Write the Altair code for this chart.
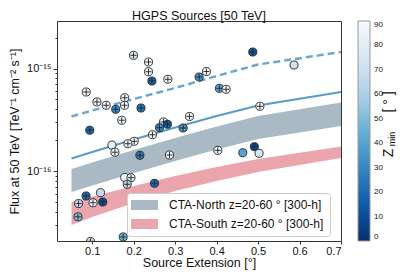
import altair as alt
import pandas as pd

FONT = "Liberation Sans"

# ---------------- data ----------------
src_ext = [0.1995, 0.2357, 0.2357, 0.2439, 0.2824, 0.0855, 0.1113, 0.1337, 0.1566, 0.1783,
           0.1778, 0.2176, 0.1711, 0.0940, 0.2718, 0.2814, 0.2622, 0.3345, 0.3193, 0.3578,
           0.3754, 0.4872, 0.5867, 0.4067, 0.4229, 0.5043, 0.2453, 0.2012, 0.1475, 0.1547,
           0.1860, 0.2149, 0.2863, 0.1783, 0.1935, 0.1843, 0.2501, 0.0851, 0.1200, 0.0670,
           0.1019, 0.1253, 0.0655, 0.0959, 0.1747, 0.4029, 0.4631, 0.4911, 0.5024, 0.4108]
src_flux = [1.345e-15, 1.157e-15, 9.31e-16, 7.56e-16, 7.86e-16, 5.91e-16, 4.73e-16, 4.39e-16, 4.01e-16, 5.20e-16,
            4.39e-16, 4.13e-16, 3.14e-16, 2.51e-16, 3.02e-16, 2.87e-16, 2.66e-16, 3.42e-16, 2.64e-16, 8.27e-16,
            9.36e-16, 1.448e-15, 1.082e-15, 6.42e-16, 6.28e-16, 4.29e-16, 2.27e-16, 1.96e-16, 1.80e-16, 1.535e-16,
            1.857e-16, 1.432e-16, 1.442e-16, 8.71e-17, 8.67e-17, 7.48e-17, 7.65e-17, 5.76e-17, 6.20e-17, 4.86e-17,
            4.95e-17, 5.03e-17, 3.61e-17, 2.08e-17, 2.30e-17, 1.60e-16, 1.518e-16, 1.736e-16, 1.498e-16, 2.83e-17]
src_zmin = [75, 86, 86, 18, 86, 86, 86, 86, 30, 86,
            86, 25, 86, 20, 84, 15, 30, 86, 35, 35,
            86, 15, 72, 40, 86, 84, 84, 86, 84, 86,
            86, 25, 86, 86, 80, 65, 20, 20, 68, 65,
            86, 10, 50, 65, 45, 86, 40, 10, 75, 75]
src_plus = [1, 1, 1, 1, 1, 1, 1, 1, 1, 1,
            1, 1, 1, 1, 1, 1, 1, 1, 1, 1,
            1, 1, 0, 1, 1, 1, 1, 1, 0, 1,
            1, 1, 1, 0, 1, 1, 1, 1, 0, 1,
            1, 1, 1, 1, 1, 1, 0, 1, 0, 0]

curve_ext = [0.05, 0.1, 0.2, 0.3, 0.4, 0.5, 0.7]
dashed_flux = [3.42e-16, 3.91e-16, 5.05e-16, 6.47e-16, 8.46e-16, 1.094e-15, 1.448e-15]
solid_flux = [1.332e-16, 1.542e-16, 2.04e-16, 2.67e-16, 3.45e-16, 4.37e-16, 5.91e-16]
north_hi = [1.054e-16, 1.219e-16, 1.612e-16, 2.11e-16, 2.73e-16, 3.45e-16, 4.67e-16]
north_lo = [6.30e-17, 7.28e-17, 9.63e-17, 1.26e-16, 1.631e-16, 2.063e-16, 2.76e-16]
south_hi = [5.03e-17, 5.69e-17, 7.20e-17, 9.01e-17, 1.102e-16, 1.318e-16, 1.744e-16]
south_lo = [3.01e-17, 3.59e-17, 4.92e-17, 6.44e-17, 8.05e-17, 9.85e-17, 1.348e-16]

band_names = ["CTA-North z=20-60 ° [300-h]", "CTA-South z=20-60 ° [300-h]"]
band_colors = ["#a9bac4", "#eba6ad"]

chart_title = ["HGPS Sources [50 TeV]"]
x_ticks = [0.1, 0.2, 0.3, 0.4, 0.5, 0.6, 0.7]
y_major = [1e-16, 1e-15]
y_major_labels = ["10⁻¹⁶", "10⁻¹⁵"]
y_minor = [3e-17, 4e-17, 5e-17, 6e-17, 7e-17, 8e-17, 9e-17,
           2e-16, 3e-16, 4e-16, 5e-16, 6e-16, 7e-16, 8e-16, 9e-16, 2e-15]
cbar_ticks = [0, 10, 20, 30, 40, 50, 60, 70, 80, 90]
cbar_domain = [0, 11.25, 22.5, 33.75, 45, 56.25, 67.5, 78.75, 90]
cbar_colors = ["#08306b", "#08519c", "#2171b5", "#4292c6", "#6baed6",
               "#9ecae1", "#c6dbef", "#deebf7", "#f7fbff"]
cbar_title = ["Z", "min", "[ ° ]"]

# ---------------- tables ----------------
src = pd.DataFrame({"ext": src_ext, "flux": src_flux, "zmin": src_zmin, "plus": src_plus})
curves = pd.DataFrame({"ext": curve_ext, "dashed": dashed_flux, "solid": solid_flux})
band_rows = []
for name, lo, hi in [(band_names[0], north_lo, north_hi), (band_names[1], south_lo, south_hi)]:
    for e, l, h in zip(curve_ext, lo, hi):
        band_rows.append({"ext": e, "lo": l, "hi": h, "band": name})
bands = pd.DataFrame(band_rows)

x_scale = alt.Scale(domain=[0.015, 0.7], nice=False, zero=False)
y_scale = alt.Scale(type="log", domain=[2.1e-17, 2.9e-15], nice=False)

label_expr = " : ".join(
    [f"datum.value == {v} ? '{l}'" for v, l in zip(y_major, y_major_labels)]
) + " : ''"
major_test = " || ".join([f"datum.value == {v}" for v in y_major])

x_axis = alt.Axis(values=x_ticks, format=".1f", title="Source Extension [°]",
                  labelFontSize=11, titleFontSize=12.5, tickSize=3, labelPadding=1,
                  titlePadding=0, grid=False, domain=False, tickColor="#333",
                  labelColor="#111", titleColor="#111", titleFontWeight="normal",
                  labelFont=FONT, titleFont=FONT)
y_axis = alt.Axis(values=sorted(y_major + y_minor), labelExpr=label_expr,
                  title="Flux at 50 TeV [TeV⁻¹ cm⁻² s⁻¹]",
                  tickSize={"condition": {"test": major_test, "value": 4}, "value": 2},
                  labelFontSize=11, titleFontSize=12.5, labelPadding=2, titlePadding=5,
                  grid=False, domain=False, tickColor="#333", labelColor="#111",
                  titleColor="#111", titleFontWeight="normal", labelFont=FONT,
                  titleFont=FONT, labelOverlap=False)

band_chart = alt.Chart(bands).mark_area(fillOpacity=1).encode(
    x=alt.X("ext:Q", scale=x_scale, axis=x_axis),
    y=alt.Y("lo:Q", scale=y_scale, axis=y_axis),
    y2="hi:Q",
    color=alt.Color("band:N",
                    scale=alt.Scale(domain=band_names, range=band_colors),
                    legend=alt.Legend(title=None, orient="none", legendX=70, legendY=172,
                                      symbolType="M-1.6,-1L3.8,-1L3.8,1L-1.6,1Z",
                                      symbolSize=100, symbolStrokeWidth=0,
                                      labelFontSize=12, labelFont=FONT, labelOffset=24,
                                      labelColor="#111", labelLimit=400, rowPadding=7,
                                      padding=6, fillColor="white", strokeColor="#cccccc",
                                      cornerRadius=3)),
)

solid_line = alt.Chart(curves).mark_line(color="#5b9bc8", strokeWidth=2.2).encode(
    x="ext:Q", y="solid:Q")
dashed_line = alt.Chart(curves).mark_line(color="#6aa7d2", strokeWidth=2.5,
                                          strokeDash=[7, 4]).encode(
    x="ext:Q", y="dashed:Q")

circles = alt.Chart(src).mark_circle(size=65, opacity=1, stroke="#222",
                                     strokeWidth=0.9, clip=True).encode(
    x="ext:Q", y="flux:Q",
    fill=alt.Fill("zmin:Q",
                  scale=alt.Scale(domain=cbar_domain, range=cbar_colors),
                  legend=alt.Legend(title=None, orient="none", legendX=301, legendY=0,
                                    direction="vertical", gradientLength=220,
                                    gradientThickness=12, gradientStrokeColor="#999",
                                    gradientStrokeWidth=1, values=cbar_ticks,
                                    labelFontSize=8, labelOffset=4, labelFont=FONT,
                                    labelColor="#111", padding=0)),
)

pluses = alt.Chart(src).transform_filter("datum.plus == 1").mark_point(
    shape="M-0.75,0L0.75,0M0,-0.75L0,0.75", size=65, filled=False,
    stroke="#222", strokeWidth=0.9, opacity=1, clip=True).encode(
    x="ext:Q", y="flux:Q")

cb_title = pd.DataFrame({"t": cbar_title})


def cb_text(label, x, y, size):
    return alt.Chart(cb_title).transform_filter(f"datum.t == '{label}'").mark_text(
        angle=270, fontSize=size, font=FONT, color="#111", align="center",
        baseline="middle").encode(x=alt.value(x), y=alt.value(y), text="t:N")


z_text = cb_text(cbar_title[0], 332, 132, 14)
min_text = cb_text(cbar_title[1], 335, 118, 9)
br_text = cb_text(cbar_title[2], 332, 81, 14)

title_text = alt.Chart(pd.DataFrame({"t": chart_title})).mark_text(
    fontSize=12.5, font=FONT, color="#111", align="center", baseline="alphabetic"
).encode(x=alt.value(142), y=alt.value(-1.5), text="t:N")

chart = alt.layer(band_chart, solid_line, dashed_line, circles, pluses,
                  z_text, min_text, br_text, title_text).resolve_scale(
    color="independent", fill="independent"
).properties(
    width=284, height=220,
    padding={"left": 49, "top": 13, "right": 58, "bottom": 30},
    autosize=alt.AutoSizeParams(type="none"),
).configure_view(stroke="#333", strokeWidth=1)

chart.save("out.html", embed_options={"renderer": "svg", "actions": False})
